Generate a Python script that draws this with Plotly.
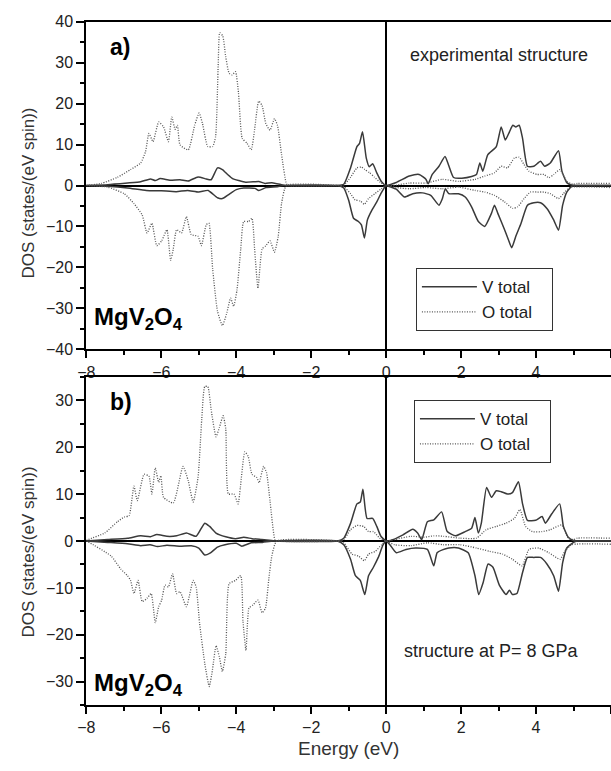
import plotly.graph_objects as go

# Spin-resolved partial DOS of MgV2O4 (energy in eV, DOS in states/(eV spin)).
# Each curve is a list of (energy, dos) samples.

# a) experimental structure
A_V_UP = [(-8.0, 0), (-7.43, 0.2), (-6.9, 0.6), (-6.55, 0.9), (-6.29, 1.6), (-6.16, 1.2), (-6.03, 1.7),
          (-5.77, 1.3), (-5.5, 1.4), (-5.28, 1.1), (-5.02, 2.1), (-4.8, 1.6), (-4.67, 1.4), (-4.5, 4.3),
          (-4.37, 3.9), (-4.23, 2.7), (-4.1, 1.7), (-3.93, 1.2), (-3.75, 0.8), (-3.53, 0.9), (-3.4, 1.0),
          (-3.23, 0.5), (-3.05, 0.7), (-2.83, 0.3), (-2.7, 0), (-1.3, 0), (-1.13, 0.3), (-0.95, 4.3),
          (-0.78, 9.5), (-0.71, 10.3), (-0.63, 13.1), (-0.53, 6.7), (-0.45, 4.6), (-0.36, 5.3),
          (-0.25, 3.1), (-0.13, 1.0), (0, 0), (0.27, 0.75), (0.62, 2.3), (0.88, 2.7), (1.06, 1.55),
          (1.12, 0.4), (1.23, 2.7), (1.41, 4.7), (1.57, 7.1), (1.67, 4.9), (1.80, 1.95), (2.02, 1.8),
          (2.28, 2.2), (2.41, 2.7), (2.50, 5.5), (2.58, 3.5), (2.71, 7.5), (2.94, 9.5), (3.07, 14.3),
          (3.18, 11.1), (3.29, 13.1), (3.38, 14.7), (3.46, 14.3), (3.55, 14.7), (3.64, 11.5),
          (3.77, 4.7), (3.94, 4.7), (4.12, 5.9), (4.23, 4.7), (4.38, 5.5), (4.60, 8.5), (4.69, 3.5),
          (4.82, 0.7), (4.95, 0.1), (5.1, 0), (6.0, 0)]

A_V_DN = [(-8.0, 0), (-7.43, -0.2), (-6.9, -0.6), (-6.4, -1.2), (-6.0, -1.3), (-5.6, -1.5), (-5.3, -1.2),
          (-5.0, -1.6), (-4.75, -1.2), (-4.5, -3.0), (-4.37, -3.2), (-4.2, -2.2), (-4.0, -1.0),
          (-3.8, -0.6), (-3.5, -0.7), (-3.4, -1.2), (-3.2, -0.5), (-2.9, -0.3), (-2.75, 0), (-1.3, 0),
          (-1.13, -0.6), (-1.0, -3.6), (-0.87, -8.0), (-0.74, -8.8), (-0.66, -9.6), (-0.58, -12.8),
          (-0.50, -8.4), (-0.38, -6.0), (-0.25, -4.0), (-0.13, -1.8), (0, 0), (0.04, -0.1),
          (0.27, -0.9), (0.49, -2.8), (0.71, -2.0), (0.97, -1.8), (1.19, -2.4), (1.41, -4.8),
          (1.50, -3.2), (1.58, -0.8), (1.67, -2.0), (1.93, -2.0), (2.11, -2.8), (2.28, -5.2),
          (2.46, -8.8), (2.63, -10.0), (2.81, -6.8), (2.89, -4.8), (2.98, -6.8), (3.16, -10.8),
          (3.26, -13.2), (3.35, -15.2), (3.46, -12.4), (3.60, -9.2), (3.77, -4.8), (3.94, -4.2),
          (4.12, -4.2), (4.29, -5.6), (4.47, -8.4), (4.60, -10.9), (4.71, -4.8), (4.82, -1.6),
          (4.95, -0.2), (5.1, 0), (6.0, 0)]

A_O_UP = [(-8.0, 0), (-7.6, 0.5), (-7.17, 2.0), (-6.82, 3.9), (-6.55, 5.5), (-6.42, 8.3), (-6.33, 12.7),
          (-6.22, 10.7), (-6.07, 15.5), (-5.94, 14.3), (-5.81, 10.7), (-5.72, 16.7), (-5.63, 13.7),
          (-5.57, 14.7), (-5.50, 9.9), (-5.28, 8.7), (-5.11, 14.7), (-4.99, 17.7), (-4.90, 15.1),
          (-4.76, 9.5), (-4.63, 9.5), (-4.55, 12.0), (-4.48, 30.0), (-4.44, 37.3), (-4.36, 36.5),
          (-4.28, 31.4), (-4.19, 27.4), (-4.11, 27.0), (-4.02, 27.8), (-3.94, 22.6), (-3.84, 11.5),
          (-3.71, 10.3), (-3.60, 8.7), (-3.51, 13.7), (-3.40, 20.6), (-3.31, 19.5), (-3.21, 15.1),
          (-3.10, 13.5), (-2.98, 16.3), (-2.90, 14.7), (-2.79, 7.5), (-2.66, 0.4), (-2.6, 0),
          (-1.3, 0), (-1.13, 0.1), (-0.95, 2.0), (-0.78, 4.3), (-0.66, 4.5), (-0.57, 3.9),
          (-0.44, 3.1), (-0.31, 2.0), (-0.13, 0.6), (0, 0), (0.27, 0.1), (0.62, 0.6), (1.06, 0.6),
          (1.5, 1.5), (1.93, 1.0), (2.37, 1.5), (2.63, 2.3), (2.89, 3.1), (3.07, 4.7), (3.24, 4.3),
          (3.42, 6.7), (3.55, 6.9), (3.68, 5.1), (3.81, 3.5), (4.03, 2.7), (4.21, 2.7), (4.34, 1.9),
          (4.47, 2.7), (4.64, 3.9), (4.82, 1.0), (4.99, 0.3), (5.1, 0.5), (6.0, 0.5)]

A_O_DN = [(-8.0, 0), (-7.43, -0.4), (-6.99, -2.0), (-6.73, -4.4), (-6.51, -7.2), (-6.38, -11.6),
          (-6.25, -9.2), (-6.12, -14.7), (-5.99, -13.5), (-5.85, -10.8), (-5.75, -18.3), (-5.68, -15.5),
          (-5.59, -10.8), (-5.46, -11.6), (-5.33, -7.6), (-5.20, -12.0), (-5.02, -12.4), (-4.93, -14.7),
          (-4.80, -9.6), (-4.73, -9.2), (-4.63, -20.3), (-4.50, -30.7), (-4.37, -34.2), (-4.26, -31.4),
          (-4.15, -27.5), (-4.07, -29.5), (-3.98, -25.5), (-3.88, -15.5), (-3.80, -8.8), (-3.67, -8.8),
          (-3.58, -8.0), (-3.51, -15.5), (-3.42, -25.1), (-3.31, -15.5), (-3.21, -14.7), (-3.10, -13.5),
          (-2.98, -16.3), (-2.88, -12.4), (-2.79, -4.4), (-2.66, 0), (-1.3, 0), (-1.13, -0.3),
          (-0.95, -2.0), (-0.83, -3.5), (-0.69, -3.8), (-0.58, -4.6), (-0.47, -3.2), (-0.3, -2.0),
          (-0.13, -0.8), (0, 0), (0.27, -0.5), (0.62, -0.8), (1.06, -0.5), (1.5, -0.8), (1.93, -0.4),
          (2.37, -1.2), (2.63, -1.6), (2.89, -2.4), (3.16, -4.0), (3.38, -5.6), (3.51, -5.2),
          (3.68, -3.2), (3.85, -1.6), (4.03, -1.6), (4.21, -1.6), (4.38, -2.0), (4.60, -3.2),
          (4.73, -2.0), (4.90, -0.5), (6.0, -0.5)]

# b) structure at P = 8 GPa
B_V_UP = [(-8.0, 0), (-7.43, 0.3), (-6.9, 0.6), (-6.55, 1.1), (-6.29, 0.9), (-6.12, 1.4), (-5.85, 1.0),
          (-5.59, 1.1), (-5.33, 1.7), (-5.07, 1.0), (-4.84, 3.8), (-4.71, 3.1), (-4.54, 1.7),
          (-4.28, 0.9), (-4.02, 0.5), (-3.80, 0.8), (-3.58, 0.5), (-3.32, 0.3), (-3.05, 0.1),
          (-2.95, 0), (-1.3, 0), (-1.13, 0.6), (-0.95, 3.75), (-0.78, 7.9), (-0.69, 8.3), (-0.62, 11.0),
          (-0.51, 4.8), (-0.36, 4.8), (-0.25, 3.1), (-0.14, 1.0), (0, 0), (0.22, 0.4), (0.45, 1.3),
          (0.71, 2.5), (0.84, 1.7), (0.95, 0.3), (1.10, 4.1), (1.27, 4.5), (1.48, 6.2), (1.63, 2.0),
          (1.85, 1.1), (2.11, 2.0), (2.28, 2.7), (2.37, 5.0), (2.46, 1.7), (2.54, 3.8), (2.68, 11.4),
          (2.81, 9.3), (2.94, 10.7), (3.07, 10.5), (3.24, 10.0), (3.37, 10.3), (3.53, 12.6),
          (3.64, 7.9), (3.77, 4.4), (3.99, 4.4), (4.16, 5.2), (4.25, 3.8), (4.42, 5.8), (4.63, 7.9),
          (4.73, 3.1), (4.86, 0.8), (5.0, 0.1), (5.1, 0), (6.0, 0)]

B_V_DN = [(-8.0, 0), (-7.43, -0.3), (-6.9, -0.6), (-6.55, -1.0), (-6.3, -0.8), (-6.1, -1.2), (-5.85, -0.9),
          (-5.5, -1.1), (-5.2, -1.0), (-5.0, -1.5), (-4.84, -3.0), (-4.7, -2.6), (-4.5, -1.3),
          (-4.3, -0.8), (-4.0, -0.5), (-3.85, -1.1), (-3.6, -0.4), (-3.3, -0.3), (-3.0, 0), (-1.3, 0),
          (-1.13, -0.8), (-0.95, -3.9), (-0.82, -7.4), (-0.69, -8.4), (-0.57, -11.4), (-0.47, -7.4),
          (-0.34, -5.6), (-0.21, -3.5), (-0.08, -0.8), (0, 0), (0.10, -0.8), (0.27, -2.5), (0.53, -1.8),
          (0.79, -1.5), (1.10, -1.8), (1.27, -5.3), (1.36, -2.5), (1.50, -1.9), (1.67, -1.5),
          (1.93, -1.5), (2.19, -2.5), (2.37, -7.4), (2.47, -11.4), (2.59, -8.8), (2.72, -4.9),
          (2.85, -5.6), (3.02, -9.4), (3.20, -11.4), (3.29, -10.5), (3.37, -11.4), (3.49, -11.2),
          (3.64, -6.7), (3.77, -3.5), (3.94, -3.5), (4.12, -3.5), (4.29, -4.9), (4.47, -7.4),
          (4.60, -10.7), (4.71, -4.6), (4.82, -1.5), (5.0, -0.3), (5.1, 0), (6.0, 0)]

B_O_UP = [(-8.0, 0.1), (-7.95, 0.3), (-7.51, 1.7), (-7.17, 4.1), (-6.99, 5.1), (-6.86, 5.4), (-6.73, 11.7),
          (-6.64, 8.6), (-6.46, 14.2), (-6.33, 13.8), (-6.25, 10.0), (-6.16, 15.6), (-6.07, 12.5),
          (-6.01, 13.9), (-5.94, 9.3), (-5.68, 8.1), (-5.42, 15.9), (-5.28, 12.8), (-5.15, 8.3),
          (-5.02, 13.5), (-4.92, 26.0), (-4.84, 32.9), (-4.76, 32.9), (-4.67, 28.0), (-4.54, 22.2),
          (-4.45, 24.2), (-4.35, 26.7), (-4.28, 23.9), (-4.21, 10.0), (-4.06, 10.0), (-3.95, 7.9),
          (-3.89, 11.4), (-3.77, 19.0), (-3.68, 18.0), (-3.58, 14.2), (-3.45, 13.5), (-3.39, 12.4),
          (-3.27, 15.9), (-3.19, 14.5), (-3.10, 8.6), (-2.97, 0.3), (-2.92, 0), (-1.3, 0),
          (-1.13, 0.3), (-0.95, 2.4), (-0.78, 3.3), (-0.60, 3.1), (-0.47, 2.0), (-0.34, 2.0),
          (-0.17, 0.6), (0, 0), (0.22, 0.3), (0.66, 1.0), (1.01, 0.8), (1.27, 1.1), (1.53, 1.0),
          (1.97, 0.6), (2.41, 0.6), (2.67, 2.4), (2.94, 3.1), (3.20, 3.8), (3.42, 4.8), (3.57, 6.7),
          (3.72, 3.1), (3.90, 2.0), (4.16, 2.0), (4.38, 2.4), (4.68, 3.4), (4.86, 0.6), (5.0, 0.3),
          (5.1, 0.6), (6.0, 0.6)]

B_O_DN = [(-8.0, 0), (-7.95, -0.2), (-7.34, -3.2), (-7.08, -6.0), (-6.90, -7.4), (-6.82, -8.4),
          (-6.73, -11.2), (-6.62, -8.4), (-6.51, -12.9), (-6.38, -12.2), (-6.27, -11.2), (-6.16, -17.4),
          (-6.07, -14.0), (-5.99, -12.6), (-5.90, -9.4), (-5.81, -9.8), (-5.70, -7.0), (-5.59, -11.2),
          (-5.50, -10.8), (-5.33, -14.0), (-5.15, -8.4), (-5.07, -9.8), (-4.98, -17.4), (-4.84, -26.1),
          (-4.72, -31.0), (-4.63, -27.2), (-4.54, -22.3), (-4.45, -24.7), (-4.37, -27.8), (-4.28, -24.0),
          (-4.19, -9.1), (-4.02, -8.4), (-3.88, -7.4), (-3.82, -17.1), (-3.74, -23.3), (-3.66, -14.3),
          (-3.55, -13.6), (-3.42, -12.6), (-3.31, -15.3), (-3.22, -14.3), (-3.13, -8.0), (-3.05, -3.2),
          (-2.92, 0), (-1.3, 0), (-1.13, -0.4), (-0.91, -2.8), (-0.74, -3.2), (-0.58, -4.2),
          (-0.47, -2.8), (-0.29, -2.2), (-0.12, -0.8), (0, 0), (0.22, -0.8), (0.66, -1.0), (1.10, -0.4),
          (1.53, -0.8), (1.97, -0.8), (2.41, -1.5), (2.76, -2.2), (3.11, -2.8), (3.37, -3.9),
          (3.63, -5.3), (3.81, -1.8), (4.07, -1.5), (4.34, -2.5), (4.64, -3.9), (4.77, -2.2),
          (4.95, -0.8), (6.0, -0.7)]

X_TICKS = [-8, -6, -4, -2, 0, 2, 4, 6]
A_Y_TICKS = [-40, -30, -20, -10, 0, 10, 20, 30, 40]
B_Y_TICKS = [-30, -20, -10, 0, 10, 20, 30]

W, H = 611, 771
FONT = "Liberation Sans"
PAD = "\u00a0\u00a0\u00a0"
V_STYLE = dict(color="#3a3a3a", width=1.5)
O_STYLE = dict(color="#555555", width=1.3, dash="1px,1.5px")


def px_x(p):
    return p / W


def px_y(p):
    return 1 - p / H


fig = go.Figure()


def add_curve(points, xa, ya, line, name=None, legend=None):
    e, d = zip(*points)
    fig.add_trace(go.Scatter(
        x=list(e), y=list(d), mode="lines", xaxis=xa, yaxis=ya,
        line=dict(shape="spline", smoothing=0.5, **line),
        name=name or "", showlegend=name is not None, legend=legend,
        hoverinfo="skip"))


add_curve(A_V_UP, "x", "y", V_STYLE, "V total" + PAD, "legend")
add_curve(A_O_UP, "x", "y", O_STYLE, "O total" + PAD, "legend")
add_curve(A_V_DN, "x", "y", V_STYLE)
add_curve(A_O_DN, "x", "y", O_STYLE)
add_curve(B_V_UP, "x2", "y2", V_STYLE, "V total" + PAD, "legend2")
add_curve(B_O_UP, "x2", "y2", O_STYLE, "O total" + PAD, "legend2")
add_curve(B_V_DN, "x2", "y2", V_STYLE)
add_curve(B_O_DN, "x2", "y2", O_STYLE)

x_dom = [px_x(78.5), 1.0]
axis_common = dict(showline=True, linecolor="black", linewidth=2, showgrid=False,
                   zeroline=True, zerolinecolor="black", zerolinewidth=2,
                   ticks="outside", tickcolor="black", tickwidth=1.5,
                   tickfont=dict(family=FONT, size=16, color="#222"))

xaxis_common = dict(axis_common, range=[-8, 6], tickvals=X_TICKS, ticklen=7, mirror=True,
                    minor=dict(dtick=1, tick0=-8, ticks="outside", ticklen=4, tickwidth=1.5,
                               tickcolor="black"))

legend_common = dict(xanchor="left", yanchor="top", bgcolor="white", bordercolor="#333",
                     borderwidth=1, font=dict(family=FONT, size=17, color="#222"),
                     itemwidth=55, tracegroupgap=0)

fig.update_layout(
    width=W, height=H, margin=dict(l=0, r=0, t=0, b=0),
    paper_bgcolor="white", plot_bgcolor="white",
    font=dict(family=FONT, color="#222"),
    xaxis=dict(xaxis_common, domain=x_dom, anchor="y"),
    yaxis=dict(axis_common, domain=[px_y(349), px_y(14)], anchor="x", range=[-40, 40],
               tickvals=A_Y_TICKS, ticklen=8,
               minor=dict(dtick=5, tick0=0, ticks="outside", ticklen=4, tickwidth=1.5,
                          tickcolor="black")),
    xaxis2=dict(xaxis_common, domain=x_dom, anchor="y2"),
    yaxis2=dict(axis_common, domain=[px_y(713), px_y(377)], anchor="x2", range=[-35, 35],
                tickvals=B_Y_TICKS, ticklen=8,
                minor=dict(dtick=5, tick0=0, ticks="outside", ticklen=4, tickwidth=1.5,
                           tickcolor="black")),
    legend=dict(legend_common, x=px_x(413), y=px_y(266)),
    legend2=dict(legend_common, x=px_x(411), y=px_y(401)),
)


def note(text, x, y, size, bold=False, angle=0, color="#222"):
    fig.add_annotation(
        text=f"<b>{text}</b>" if bold else text, x=px_x(x), y=px_y(y),
        xref="paper", yref="paper", xanchor="center", yanchor="middle",
        showarrow=False, textangle=angle,
        font=dict(family=FONT, size=size, color=color))


note("a)", 113, 40, 23, bold=True, color="black")
note("b)", 114, 403, 23, bold=True, color="black")
note("MgV<sub>2</sub>O<sub>4</sub>", 131, 318, 24, bold=True, color="black")
note("MgV<sub>2</sub>O<sub>4</sub>", 131, 692, 24, bold=True, color="black")
note("experimental structure", 497, 48, 18)
note("structure at P= 8 GPa", 490, 657, 18)
note("DOS (states/(eV spin))", 20, 189, 17, angle=-90, color="#333")
note("DOS (states/(eV spin))", 20, 556, 17, angle=-90, color="#333")
note("Energy (eV)", 345, 757, 19, color="#333")

fig.write_html("out.html")
